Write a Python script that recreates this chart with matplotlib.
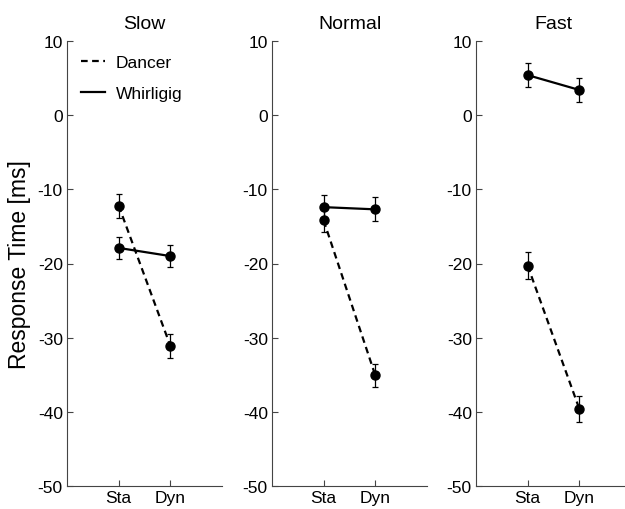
import matplotlib
matplotlib.use("Agg")
import matplotlib.pyplot as plt
from matplotlib.lines import Line2D
import numpy as np

plt.rcParams['font.family'] = ['Liberation Sans', 'DejaVu Sans']
plt.rcParams['axes.unicode_minus'] = False

conditions = ["Slow", "Normal", "Fast"]
xlabels = ["Sta", "Dyn"]
dancer = [[-12.2, -31.1], [-14.2, -35.1], [-20.3, -39.6]]
dancer_err = [[1.6, 1.6], [1.5, 1.5], [1.8, 1.8]]
whirligig = [[-17.9, -19.0], [-12.4, -12.7], [5.4, 3.4]]
whirligig_err = [[1.5, 1.5], [1.6, 1.6], [1.6, 1.6]]

fig = plt.figure(figsize=(6.25, 5.1), dpi=100)
lefts = [67, 272, 476]
W, H = 625, 510
spine_col = '#444444'
x = np.array([1, 2])
for i, cond in enumerate(conditions):
    ax = fig.add_axes([lefts[i] / W, 1 - 487 / H, 155 / W, 445 / H])
    ax.errorbar(x, dancer[i], yerr=dancer_err[i], color='black', ls='--', lw=1.6,
                marker='o', ms=6.5, capsize=2.5, elinewidth=0.9, capthick=0.9,
                dashes=(3, 2))
    ax.errorbar(x, whirligig[i], yerr=whirligig_err[i], color='black', ls='-', lw=1.6,
                marker='o', ms=6.5, capsize=2.5, elinewidth=0.9, capthick=0.9)
    ax.set_xlim(0, 3)
    ax.set_ylim(-50, 10)
    ax.set_xticks(x)
    ax.set_xticklabels(xlabels)
    ax.set_yticks(np.arange(-50, 11, 10))
    ax.tick_params(direction='in', length=4, width=0.8, color=spine_col,
                   labelsize=12.5, pad=3)
    for s in ['top', 'right']:
        ax.spines[s].set_visible(False)
    for s in ['left', 'bottom']:
        ax.spines[s].set_color(spine_col)
        ax.spines[s].set_linewidth(0.8)
    ax.set_title(cond, fontsize=14, pad=9)
    if i == 0:
        ax.set_ylabel('Response Time [ms]', fontsize=16.5, labelpad=5)
        h = [Line2D([], [], color='black', ls='--', lw=1.6, dashes=(3, 2)),
             Line2D([], [], color='black', ls='-', lw=1.6)]
        ax.legend(h, ['Dancer', 'Whirligig'], loc='upper left', frameon=False,
                  fontsize=12.5, handlelength=1.4, labelspacing=0.9,
                  borderaxespad=0.4, handletextpad=0.6)

fig.savefig('out.png', dpi=100)
